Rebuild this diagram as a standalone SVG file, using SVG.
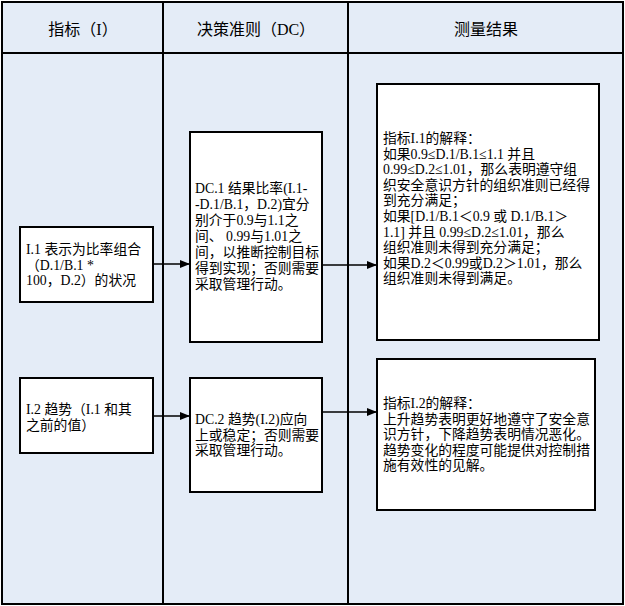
<svg xmlns="http://www.w3.org/2000/svg" width="625" height="606" viewBox="0 0 625 606">
<defs>
<marker id="ah" markerWidth="10" markerHeight="8" refX="9" refY="4" orient="auto" markerUnits="userSpaceOnUse">
<path d="M0,0 L10,4 L0,8 Z" fill="#000"/>
</marker>
<style>
.grid{fill:none;stroke:#000;stroke-width:2}
.box{fill:#fff;stroke:#000;stroke-width:2}
.t{font-family:"Liberation Serif","Noto Sans CJK SC",serif;font-size:13.8px;fill:#000}
.h{font-family:"Liberation Serif","Noto Sans CJK SC",serif;font-size:16px;fill:#000;text-anchor:middle}
.c{stroke:#000;stroke-width:1.3;fill:none;marker-end:url(#ah)}
</style>
</defs>
<rect x="0" y="0" width="625" height="606" fill="#fff"/>
<g id="table">
<rect x="2" y="2" width="621" height="602" fill="#E4ECF7"/>
<rect x="2" y="2" width="621" height="602" class="grid"/>
<line x1="2" y1="53" x2="623" y2="53" class="grid"/>
<line x1="163" y1="2" x2="163" y2="604" class="grid"/>
<line x1="348" y1="2" x2="348" y2="604" class="grid"/>
<text class="h" x="83" y="35">指标（I）</text>
<text class="h" x="256" y="35">决策准则（DC）</text>
<text class="h" x="486" y="35">测量结果</text>
</g>
<g id="i1">
<rect x="20" y="227" width="133" height="75" class="box"/>
<text class="t" x="26" y="254">I.1 表示为比率组合</text>
<text class="t" x="26" y="269.6">（D.1/B.1 *</text>
<text class="t" x="26" y="285.2">100，D.2）的状况</text>
</g>
<g id="dc1">
<rect x="190" y="132" width="132" height="210" class="box"/>
<text class="t" x="195" y="193">DC.1 结果比率(I.1-</text>
<text class="t" x="195" y="209">-D.1/B.1，D.2)宜分</text>
<text class="t" x="195" y="225">别介于0.9与1.1之</text>
<text class="t" x="195" y="241">间、 0.99与1.01之</text>
<text class="t" x="195" y="257">间，以推断控制目标</text>
<text class="t" x="195" y="273">得到实现；否则需要</text>
<text class="t" x="195" y="289">采取管理行动。</text>
</g>
<g id="r1">
<rect x="377" y="84" width="222" height="256" class="box"/>
<text class="t" x="383" y="143">指标I.1的解释：</text>
<text class="t" x="383" y="158.6">如果0.9≤D.1/B.1≤1.1 并且</text>
<text class="t" x="383" y="174.2">0.99≤D.2≤1.01，那么表明遵守组</text>
<text class="t" x="383" y="189.8">织安全意识方针的组织准则已经得</text>
<text class="t" x="383" y="205.4">到充分满足；</text>
<text class="t" x="383" y="221">如果[D.1/B.1＜0.9 或 D.1/B.1＞</text>
<text class="t" x="383" y="236.6">1.1] 并且 0.99≤D.2≤1.01，那么</text>
<text class="t" x="383" y="252.2">组织准则未得到充分满足；</text>
<text class="t" x="383" y="267.8">如果D.2＜0.99或D.2＞1.01，那么</text>
<text class="t" x="383" y="283.4">组织准则未得到满足。</text>
</g>
<g id="i2">
<rect x="20" y="378" width="133" height="75" class="box"/>
<text class="t" x="26" y="414">I.2 趋势（I.1 和其</text>
<text class="t" x="26" y="429.6">之前的值）</text>
</g>
<g id="dc2">
<rect x="190" y="378" width="132" height="114" class="box"/>
<text class="t" x="195" y="424">DC.2 趋势(I.2)应向</text>
<text class="t" x="195" y="439.6">上或稳定；否则需要</text>
<text class="t" x="195" y="455.2">采取管理行动。</text>
</g>
<g id="r2">
<rect x="377" y="359" width="218" height="151" class="box"/>
<text class="t" x="383" y="408">指标I.2的解释：</text>
<text class="t" x="383" y="423.6">上升趋势表明更好地遵守了安全意</text>
<text class="t" x="383" y="439.2">识方针，下降趋势表明情况恶化。</text>
<text class="t" x="383" y="454.8">趋势变化的程度可能提供对控制措</text>
<text class="t" x="383" y="470.4">施有效性的见解。</text>
</g>
<g id="connectors">
<line x1="153" y1="264" x2="189" y2="264" class="c"/>
<line x1="322" y1="265" x2="376" y2="265" class="c"/>
<line x1="153" y1="416" x2="189" y2="416" class="c"/>
<line x1="322" y1="412" x2="376" y2="412" class="c"/>
</g>
</svg>
